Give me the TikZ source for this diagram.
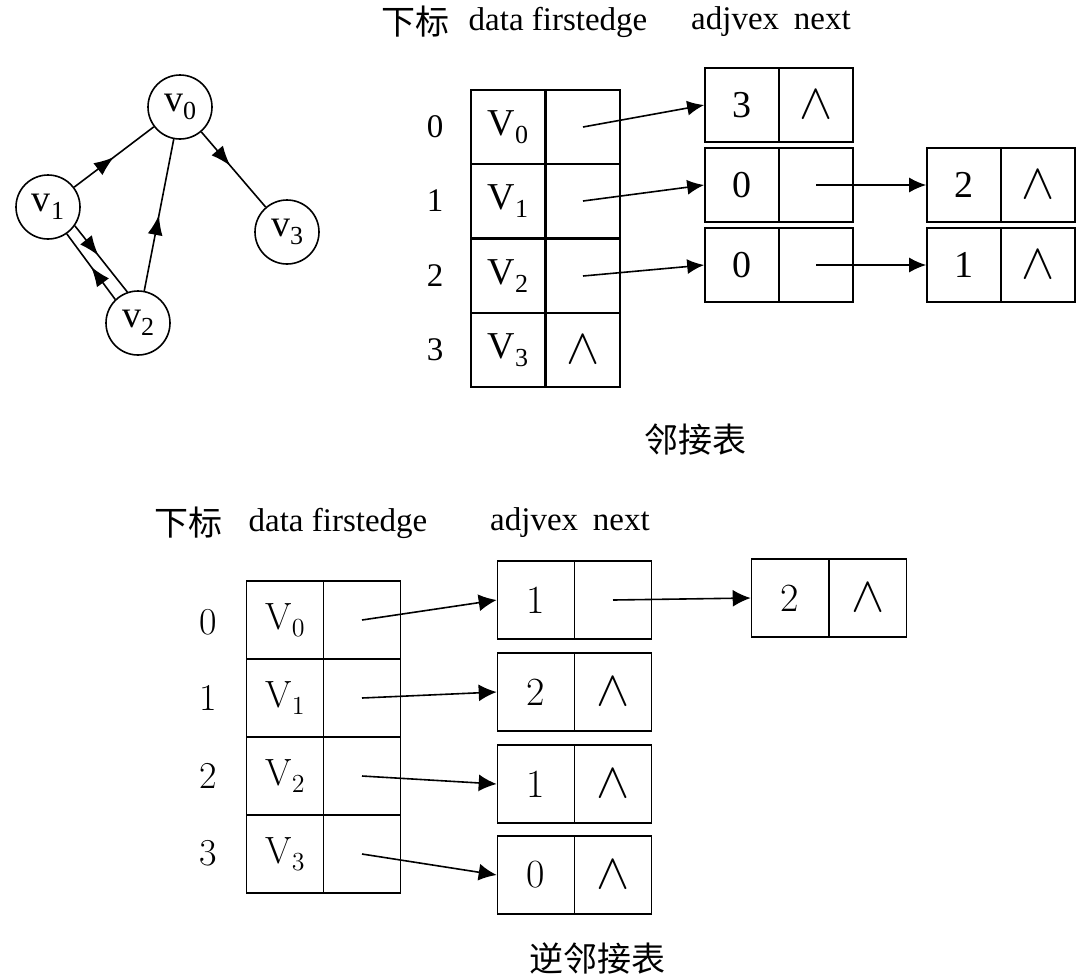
\documentclass[tikz,border=0pt]{standalone}
\usepackage{fontspec}
\setmainfont{Liberation Serif}
\newfontfamily\cjk{Noto Sans CJK SC}
\newfontfamily\lmr{Latin Modern Roman}
\usetikzlibrary{arrows.meta,decorations.markings}
\newcommand{\vidx}[2]{#1\raisebox{-0.45ex}{\fontsize{13}{14}\selectfont #2}}
\newcommand{\nullmark}{{\fontsize{24}{26}\selectfont$\wedge$}}
\begin{document}
\begin{tikzpicture}[x=0.5pt,y=-0.5pt,line width=0.8pt,
  txt/.style={font=\fontsize{16.5}{18}\selectfont},
  han/.style={font=\cjk\fontsize{17}{19}\selectfont},
  lmtxt/.style={font=\lmr\fontsize{19}{21}\selectfont},
  vert/.style={draw,circle,minimum size=32pt,inner sep=0pt,font=\fontsize{19}{21}\selectfont},
  cella/.style={draw,minimum width=37pt,minimum height=37pt,inner sep=0pt,font=\fontsize{19}{21}\selectfont},
  cellb/.style={draw,minimum width=38.5pt,minimum height=39pt,inner sep=0pt,font=\lmr\fontsize{20}{22}\selectfont},
  tipa/.style={-{Latex[length=8.5pt,width=7.5pt]}},
  tipb/.style={-{Latex[length=9pt,width=8.5pt]}},
  midarrow/.style={postaction={decorate},decoration={markings,
    mark=at position #1 with {\arrow{Latex[length=10pt,width=7.5pt]}}}}]
  \useasboundingbox (0,0) rectangle (1092,976);

  \node[vert] (v0) at (180,107) {\vidx{v}{0}};
  \node[vert] (v1) at (48,207) {\vidx{v}{1}};
  \node[vert] (v2) at (138,323) {\vidx{v}{2}};
  \node[vert] (v3) at (287,232) {\vidx{v}{3}};
  \draw[midarrow=0.5] (v1) -- (v0);
  \draw[midarrow=0.45] (v0) -- (v3);
  \draw[midarrow=0.5] (v2) -- (v0);
  \draw[midarrow=0.45] (v1.-35) -- (v2.109);
  \draw[midarrow=0.5] (v2.134) -- (v1.-55);

  \node[han] (th) at (415,22) {下标};
  \node[txt] (tdh) at (558,22) {data firstedge};
  \node[txt] (tah) at (771,22) {adjvex\hspace{0.45em}next};

  \node[txt] (ti0) at (435,127) {0};
  \node[txt] (ti1) at (435,201) {1};
  \node[txt] (ti2) at (435,276) {2};
  \node[txt] (ti3) at (435,350) {3};
  \node[cella] (td0) at (508,127) {\vidx{V}{0}};
  \node[cella] (td1) at (508,201) {\vidx{V}{1}};
  \node[cella] (td2) at (508,276) {\vidx{V}{2}};
  \node[cella] (td3) at (508,350) {\vidx{V}{3}};
  \node[cella] (tf0) at (583,127) {};
  \node[cella] (tf1) at (583,201) {};
  \node[cella] (tf2) at (583,276) {};
  \node[cella] (tf3) at (583,350) {\nullmark};

  \node[cella] (ta0) at (742,105) {3};
  \node[cella] (tn0) at (816,105) {\nullmark};
  \node[cella] (ta1) at (742,185) {0};
  \node[cella] (tn1) at (816,185) {};
  \node[cella] (ta2) at (742,265) {0};
  \node[cella] (tn2) at (816,265) {};
  \node[cella] (tb1) at (964,185) {2};
  \node[cella] (tm1) at (1038,185) {\nullmark};
  \node[cella] (tb2) at (964,265) {1};
  \node[cella] (tm2) at (1038,265) {\nullmark};
  \draw[tipa] (tf0.center) -- (ta0.west);
  \draw[tipa] (tf1.center) -- (ta1.west);
  \draw[tipa] (tf2.center) -- (ta2.west);
  \draw[tipa] (tn1.center) -- (tb1.west);
  \draw[tipa] (tn2.center) -- (tb2.west);
  \node[han] (tcap) at (695,440) {邻接表};

  \node[han] (bh) at (188,523) {下标};
  \node[txt] (bdh) at (338,523) {data firstedge};
  \node[txt] (bah) at (570,523) {adjvex\hspace{0.45em}next};

  \node[lmtxt] (bi0) at (208,622) {0};
  \node[lmtxt] (bi1) at (208,698) {1};
  \node[lmtxt] (bi2) at (208,776) {2};
  \node[lmtxt] (bi3) at (208,853) {3};
  \node[cellb,font=\lmr\fontsize{19}{21}\selectfont] (bd0) at (285,620) {\vidx{V}{0}};
  \node[cellb,font=\lmr\fontsize{19}{21}\selectfont] (bd1) at (285,698) {\vidx{V}{1}};
  \node[cellb,font=\lmr\fontsize{19}{21}\selectfont] (bd2) at (285,776) {\vidx{V}{2}};
  \node[cellb,font=\lmr\fontsize{19}{21}\selectfont] (bd3) at (285,854) {\vidx{V}{3}};
  \node[cellb] (bf0) at (362,620) {};
  \node[cellb] (bf1) at (362,698) {};
  \node[cellb] (bf2) at (362,776) {};
  \node[cellb] (bf3) at (362,854) {};

  \node[cellb] (ba0) at (536,600) {1};
  \node[cellb] (bn0) at (613,600) {};
  \node[cellb] (ba1) at (536,692) {2};
  \node[cellb] (bn1) at (613,692) {\nullmark};
  \node[cellb] (ba2) at (536,784) {1};
  \node[cellb] (bn2) at (613,784) {\nullmark};
  \node[cellb] (ba3) at (536,875) {0};
  \node[cellb] (bn3) at (613,875) {\nullmark};
  \node[cellb] (bb0) at (790,598) {2};
  \node[cellb] (bm0) at (868,598) {\nullmark};
  \draw[tipb] (bf0.center) -- (ba0.west);
  \draw[tipb] (bf1.center) -- (ba1.west);
  \draw[tipb] (bf2.center) -- (ba2.west);
  \draw[tipb] (bf3.center) -- (ba3.west);
  \draw[tipb] (bn0.center) -- (bb0.west);
  \node[han] (bcap) at (597,958) {逆邻接表};
\end{tikzpicture}
\end{document}
